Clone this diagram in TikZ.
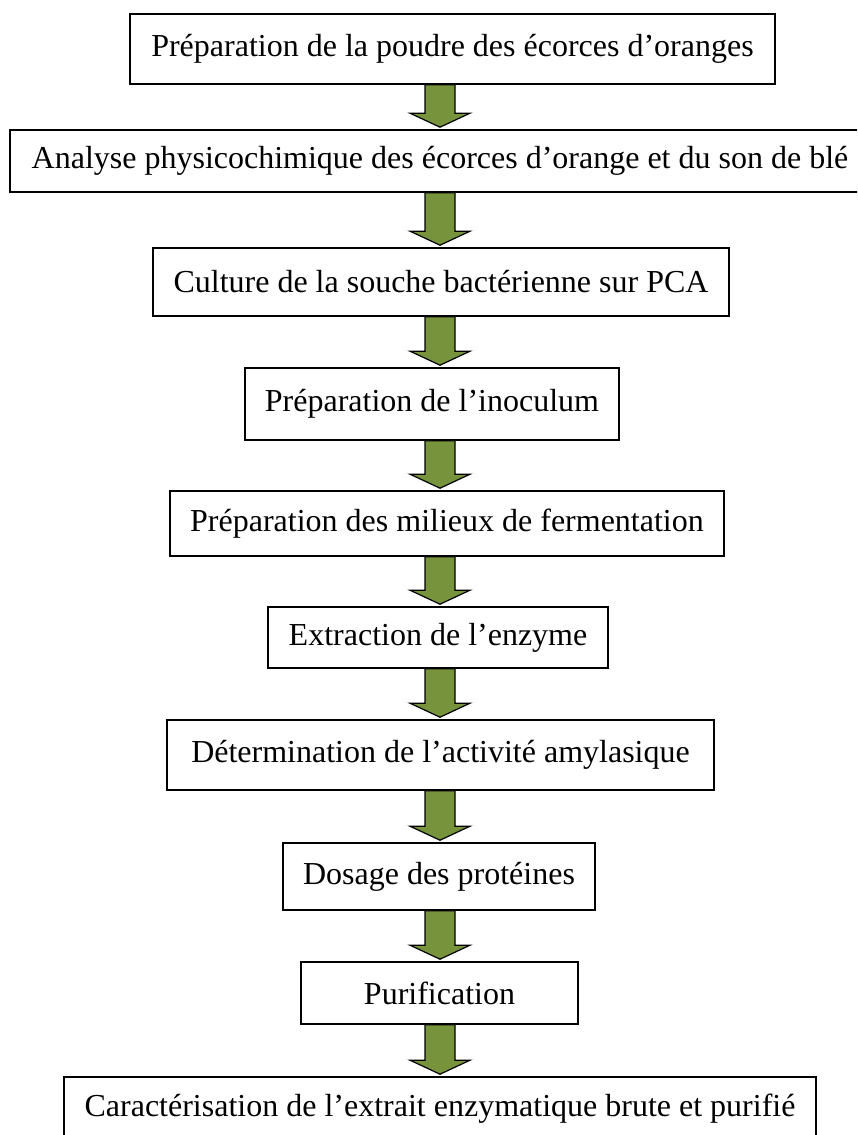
\documentclass[tikz,border=0pt]{standalone}
\usepackage{fontspec}
\setmainfont{Liberation Serif}
\usepackage{tikz}
\usetikzlibrary{calc}

\definecolor{arrowgreen}{RGB}{119,147,60}

\begin{document}
\begin{tikzpicture}[x=0.5pt, y=-0.5pt,
        box_style/.style={rectangle,draw=black,line width=0.8pt,fill=white,inner sep=0pt,align=center,font=\fontsize{16}{19}\selectfont},
        arrow_style/.style={draw=black,line width=0.6pt,fill=arrowgreen,
            to path={($(\tikztostart.south -| col)+(-15,0)$) -- ($(\tikztostart.south -| col)+(15,0)$)
                -- ($(\tikztotarget.north -| col)+(15,-16)$) -- ($(\tikztotarget.north -| col)+(30,-16)$)
                -- ($(\tikztotarget.north -| col)+(0,-2)$)
                -- ($(\tikztotarget.north -| col)+(-30,-16)$) -- ($(\tikztotarget.north -| col)+(-15,-16)$) -- cycle}}]

        \clip (0,0) rectangle (857,1135);
        \coordinate (col) at (440,0);

        \node [box_style,minimum width=322.5pt,minimum height=35pt](n1) at (452.5,49) {Préparation de la poudre des écorces d’oranges};

        \node [box_style,minimum width=430pt,minimum height=31pt](n2) at (440,161) {Analyse physicochimique des écorces d’orange et du son de blé};

        \node [box_style,minimum width=288pt,minimum height=34pt](n3) at (441,282) {Culture de la souche bactérienne sur PCA};

        \node [box_style,minimum width=187pt,minimum height=36pt](n4) at (432,404) {Préparation de l’inoculum};

        \node [box_style,minimum width=277pt,minimum height=32.5pt](n5) at (447,523.5) {Préparation des milieux de fermentation};

        \node [box_style,minimum width=170pt,minimum height=30.5pt](n6) at (438,637.5) {Extraction de l’enzyme};

        \node [box_style,minimum width=273.5pt,minimum height=35pt](n7) at (440.5,755) {Détermination de l’activité amylasique};

        \node [box_style,minimum width=156pt,minimum height=33.5pt](n8) at (439,876.5) {Dosage des protéines};

        \node [box_style,minimum width=138.5pt,minimum height=31pt](n9) at (439.5,993) {Purification};

        \node [box_style,minimum width=376pt,minimum height=31.5pt](n10) at (440,1108.5) {Caractérisation de l’extrait enzymatique brute et purifié};

        \draw [arrow_style] (n1) to (n2);

        \draw [arrow_style] (n2) to (n3);

        \draw [arrow_style] (n3) to (n4);

        \draw [arrow_style] (n4) to (n5);

        \draw [arrow_style] (n5) to (n6);

        \draw [arrow_style] (n6) to (n7);

        \draw [arrow_style] (n7) to (n8);

        \draw [arrow_style] (n8) to (n9);

        \draw [arrow_style] (n9) to (n10);

        \end{tikzpicture}
\end{document}
